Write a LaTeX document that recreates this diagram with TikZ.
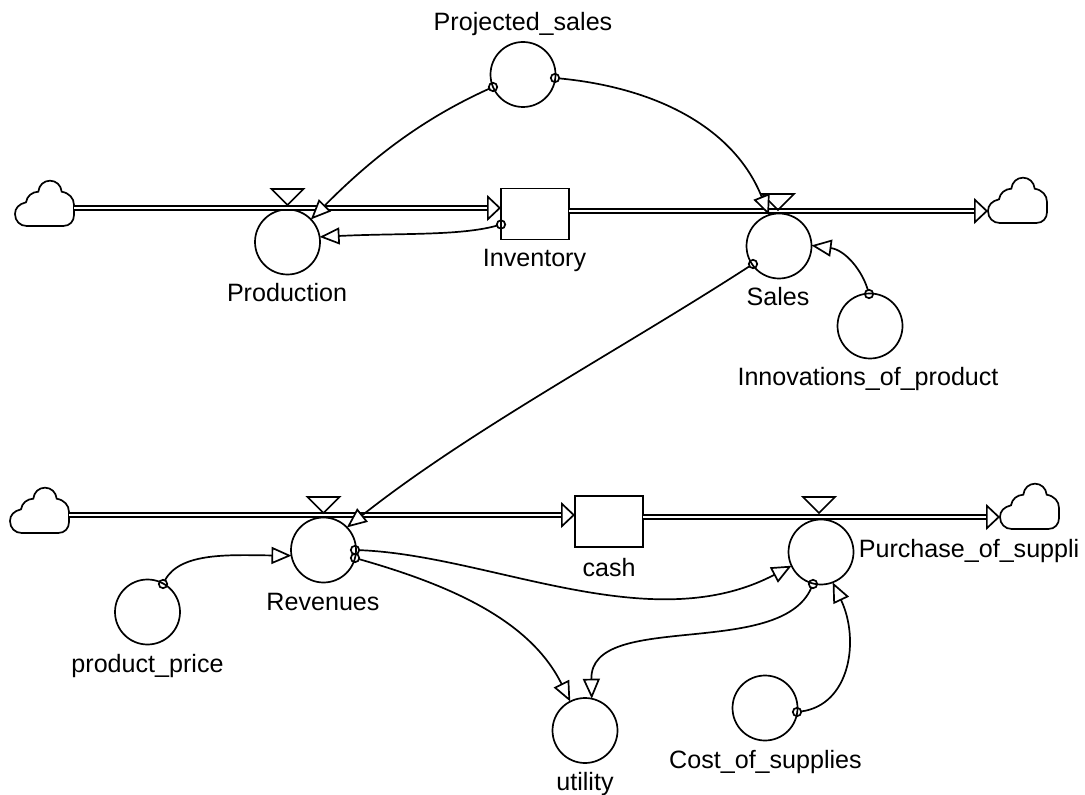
\documentclass[tikz,border=0pt]{standalone}
\usepackage{fontspec}
\setmainfont{Liberation Sans}
\usetikzlibrary{calc}
\usetikzlibrary{arrows.meta}

\begin{document}
\begin{tikzpicture}[x=0.5pt, y=-0.5pt, line width=0.85pt]
    \tikzstyle{conv}=[shape=circle, draw, inner sep=0, outer sep=0, minimum size=32.5pt]
    \tikzstyle{stock}=[shape=rectangle, draw, inner sep=0, outer sep=0, minimum width=34pt, minimum height=25.5pt]
    \tikzstyle{pin}=[shape=circle, draw, inner sep=0, outer sep=0, minimum size=4.2pt]
    \tikzstyle{txt}=[inner sep=0, anchor=base, font=\fontsize{12.55}{15}\selectfont]
    \tikzstyle{link}=[-{Triangle[open, fill=white, length=10pt, width=8.5pt]}]
    \tikzstyle{pipe}=[double, double distance=1pt, line width=0.8pt, -{Triangle[open, fill=white, length=7pt, width=13pt, line width=0.85pt]}]

    \tikzset{
        cloud/.pic={
            \draw (11.7,0) -- (48.3,0)
                .. controls (55,0) and (59,-5) .. (59,-11) -- (59,-21)
                .. controls (59,-28) and (54,-33) .. (46.7,-34.3)
                .. controls (46,-41) and (41,-45.3) .. (35,-45.3)
                .. controls (29,-45.3) and (24,-41) .. (23.3,-34.3)
                .. controls (17,-34) and (12,-30) .. (11,-23.7)
                .. controls (4,-22) and (0,-18) .. (0,-12)
                .. controls (0,-5) and (5,0) .. (11.7,0) -- cycle;
            \coordinate (-west) at (0,-12);
            \coordinate (-east) at (59,-18);
        },
        valve/.pic={
            \draw (-16,-16) -- (16,-16) -- (0,0) -- cycle;
        },
    }

    \useasboundingbox (0,0) rectangle (1085,795);

    % upper chain
    \pic (cloud_tl) at (15,226) {cloud};
    \pic (cloud_tr) at (988,223) {cloud};
    \node[conv] (production) at (287.5,242) {};
    \node[stock] (inventory) at (535,214) {};
    \node[conv] (sales) at (779,246) {};
    \node[conv] (projected) at (523,74.5) {};
    \node[conv] (innovations) at (870,326) {};

    % lower chain
    \pic (cloud_bl) at (10,533) {cloud};
    \pic (cloud_br) at (1000,529) {cloud};
    \node[conv] (revenues) at (323.5,550) {};
    \node[stock] (cash) at (609,521.5) {};
    \node[conv] (purchase) at (821,552) {};
    \node[conv] (price) at (147.5,612) {};
    \node[conv] (utility) at (585,730.5) {};
    \node[conv] (supplies) at (765,708) {};

    % labels
    \node[txt] (projected_txt) at (523,31) {Projected\_sales};
    \node[txt] (production_txt) at (287,302) {Production};
    \node[txt] (inventory_txt) at (534.5,267) {Inventory};
    \node[txt] (sales_txt) at (778,306) {Sales};
    \node[txt] (innovations_txt) at (868,386) {Innovations\_of\_product};
    \node[txt] (price_txt) at (147.5,672) {product\_price};
    \node[txt] (revenues_txt) at (323,610) {Revenues};
    \node[txt] (cash_txt) at (609,576) {cash};
    \node[txt, anchor=base west] (purchase_txt) at (858,558) {Purchase\_of\_suppli};
    \node[txt] (utility_txt) at (585,790) {utility};
    \node[txt] (supplies_txt) at (765.5,768) {Cost\_of\_supplies};

    % pipes
    \draw[pipe] (cloud_tl-east) -- (inventory.west |- cloud_tl-east);
    \draw[pipe] (inventory.east |- cloud_tr-west) -- (cloud_tr-west);
    \draw[pipe] (cloud_bl-east) -- (cash.west |- cloud_bl-east);
    \draw[pipe] (cash.east |- cloud_br-west) -- (cloud_br-west);

    \pic at ($(production)+(0,-37)$) {valve};
    \pic at ($(sales)+(-1,-36)$) {valve};
    \pic at ($(revenues)+(0,-37)$) {valve};
    \pic at ($(purchase)+(-2,-39)$) {valve};

    % pins
    \node[pin] (projected_l) at (493,87) {};
    \node[pin] (projected_r) at (555,78) {};
    \node[pin] (inventory_p) at (501,224.5) {};
    \node[pin] (sales_p) at (753,264) {};
    \node[pin] (innovations_p) at (869,294) {};
    \node[pin] (price_p) at (163,584) {};
    \node[pin] (revenues_a) at (355,550) {};
    \node[pin] (revenues_b) at (355,558) {};
    \node[pin] (purchase_p) at (813,584) {};
    \node[pin] (supplies_p) at (797,712) {};

    % links
    \draw[link] (projected_l) .. controls (420,120) and (370,160) .. (production.44);
    \draw[link] (projected_r) .. controls (660,88) and (735,130) .. (sales.108);
    \draw[link] (inventory_p) .. controls (460,236) and (400,233) .. (production.9);
    \draw[link] (sales_p) .. controls (620,350) and (470,430) .. (revenues.44);
    \draw[link] (innovations_p) .. controls (862,270) and (845,250) .. (sales.1);
    \draw[link] (price_p) .. controls (180,552) and (230,555) .. (revenues.190);
    \draw[link] (revenues_a) .. controls (490,555) and (650,640) .. (purchase.205);
    \draw[link] (revenues_b) .. controls (450,585) and (530,620) .. (utility.117);
    \draw[link] (purchase_p) .. controls (780,660) and (590,610) .. (utility.78);
    \draw[link] (supplies_p) .. controls (850,705) and (860,640) .. (purchase.-69);
\end{tikzpicture}
\end{document}
